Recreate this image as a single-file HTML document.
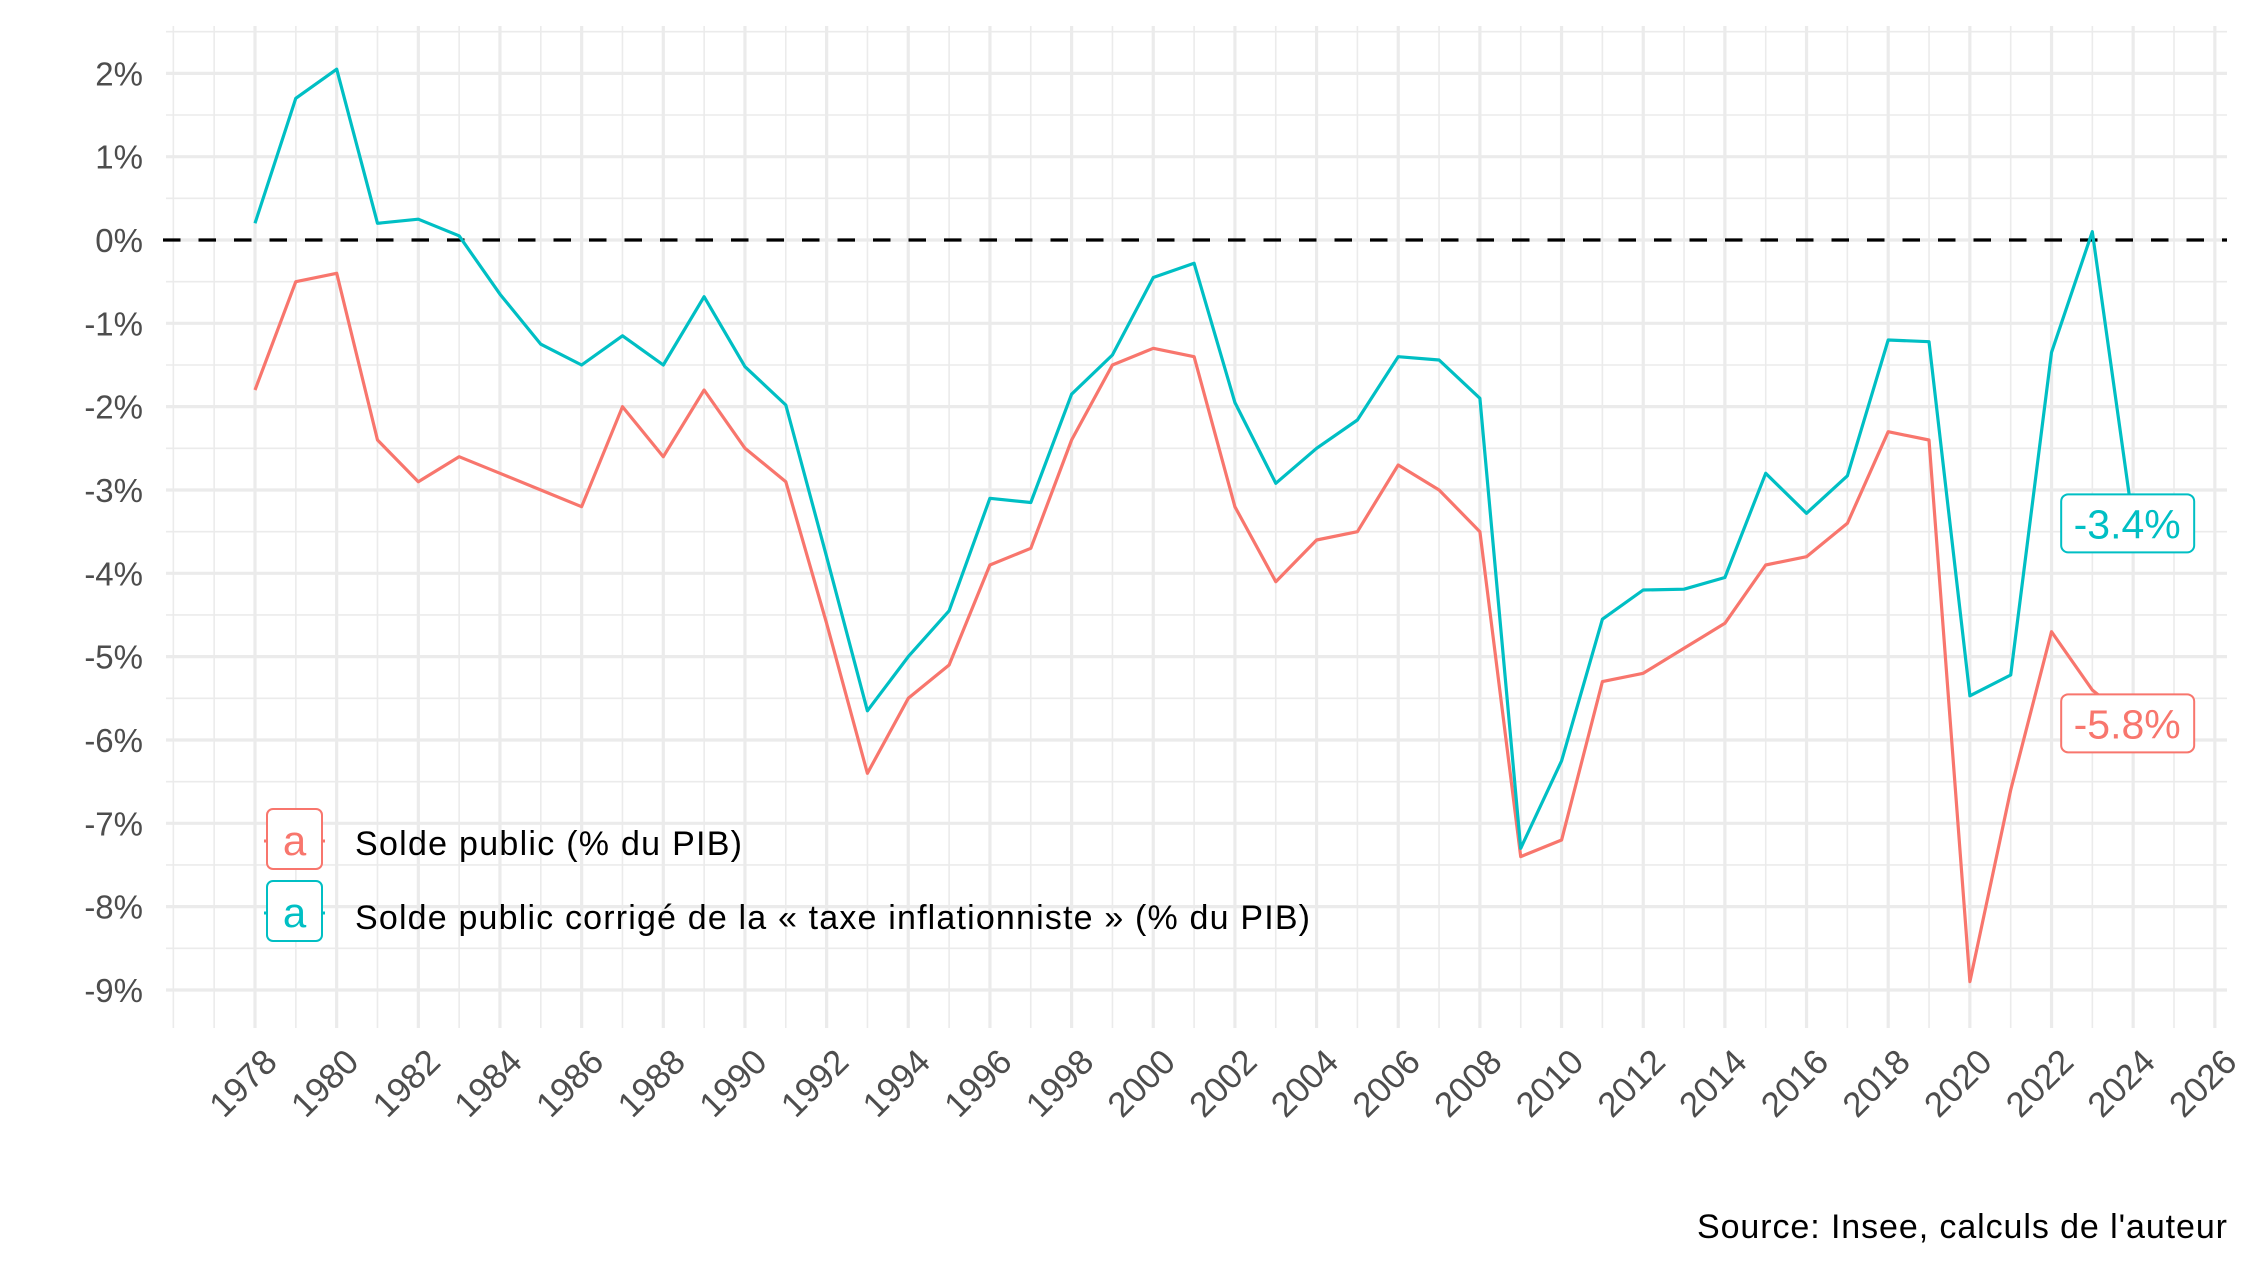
<!DOCTYPE html>
<html><head><meta charset="utf-8"><style>
html,body{margin:0;padding:0;background:#fff;}
svg{display:block;font-family:"Liberation Sans",sans-serif;}
</style></head><body>
<svg id="chart" width="2250" height="1265" viewBox="0 0 2250 1265">
<g id="grid"></g>
<g id="axes"></g>
<line x1="163" x2="2227" y1="240" y2="240" stroke="#000" stroke-width="3.2" stroke-dasharray="17.5,18"/>
<g id="series"></g>
<g id="labels"></g>
<g>
  <g>
    <line x1="264" x2="325" y1="841" y2="841" stroke="#F8766D" stroke-width="3"/>
    <rect x="267" y="809" width="55" height="60" rx="6" fill="#fff" stroke="#F8766D" stroke-width="2"/>
    <text x="294.5" y="855" text-anchor="middle" font-size="42" fill="#F8766D">a</text>
    <text x="355" y="855" font-size="34" textLength="387" fill="#000">Solde public (% du PIB)</text>
  </g>
  <g>
    <line x1="264" x2="325" y1="913" y2="913" stroke="#00BFC4" stroke-width="3"/>
    <rect x="267" y="881" width="55" height="60" rx="6" fill="#fff" stroke="#00BFC4" stroke-width="2"/>
    <text x="294.5" y="927" text-anchor="middle" font-size="42" fill="#00BFC4">a</text>
    <text x="355" y="929" font-size="34" textLength="955" fill="#000">Solde public corrigé de la « taxe inflationniste » (% du PIB)</text>
  </g>
</g>
<text x="1697" y="1238" font-size="34" textLength="530" fill="#000">Source: Insee, calculs de l'auteur</text>
</svg>
<script>
const years = [1978,1979,1980,1981,1982,1983,1984,1985,1986,1987,1988,1989,1990,1991,1992,1993,1994,1995,1996,1997,1998,1999,2000,2001,2002,2003,2004,2005,2006,2007,2008,2009,2010,2011,2012,2013,2014,2015,2016,2017,2018,2019,2020,2021,2022,2023,2024];
const soldePublic = [-1.8,-0.5,-0.4,-2.4,-2.9,-2.6,-2.8,-3.0,-3.2,-2.0,-2.6,-1.8,-2.5,-2.9,-4.6,-6.4,-5.5,-5.1,-3.9,-3.7,-2.4,-1.5,-1.3,-1.4,-3.2,-4.1,-3.6,-3.5,-2.7,-3.0,-3.5,-7.4,-7.2,-5.3,-5.2,-4.9,-4.6,-3.9,-3.8,-3.4,-2.3,-2.4,-8.9,-6.6,-4.7,-5.4,-5.8];
const soldeCorrige = [0.2,1.7,2.05,0.2,0.25,0.05,-0.65,-1.25,-1.5,-1.15,-1.5,-0.68,-1.52,-1.98,-3.8,-5.65,-5.0,-4.45,-3.1,-3.15,-1.85,-1.38,-0.45,-0.28,-1.95,-2.92,-2.5,-2.16,-1.4,-1.44,-1.9,-7.3,-6.25,-4.55,-4.2,-4.19,-4.05,-2.8,-3.28,-2.83,-1.2,-1.22,-5.47,-5.22,-1.35,0.1,-3.4];
const yTicks = [2,1,0,-1,-2,-3,-4,-5,-6,-7,-8,-9];
const xTicks = [1978,1980,1982,1984,1986,1988,1990,1992,1994,1996,1998,2000,2002,2004,2006,2008,2010,2012,2014,2016,2018,2020,2022,2024,2026];

const L=166,R=2227,T=26,B=1028;
const x = yr => 255 + (yr-1978)*40.83;
const y = v => 240 - v*83.33;
const NS="http://www.w3.org/2000/svg";
function mk(tag, attrs, parent){const e=document.createElementNS(NS,tag);for(const k in attrs)e.setAttribute(k,attrs[k]);parent.appendChild(e);return e;}
const grid=document.getElementById('grid'), axes=document.getElementById('axes'), series=document.getElementById('series'), labels=document.getElementById('labels');

for(let v=2.5; v>=-9; v-=1){const e=mk('line',{x1:L,x2:R,y1:y(v),y2:y(v),stroke:'#ebebeb','stroke-width':1.6},grid);

}
for(let yr=1976; yr<=2025; yr++){ if(xTicks.includes(yr)) continue; const e=mk('line',{x1:x(yr),x2:x(yr),y1:T,y2:B,stroke:'#ebebeb','stroke-width':1.6},grid);

}
yTicks.forEach(v=>{const e=mk('line',{x1:L,x2:R,y1:y(v),y2:y(v),stroke:'#ebebeb','stroke-width':3.2},grid);


const t=mk('text',{x:143,y:y(v)+12,'text-anchor':'end','font-size':33,fill:'#4d4d4d'},axes);t.textContent=v+'%';

});
xTicks.forEach(yr=>{const e=mk('line',{x1:x(yr),x2:x(yr),y1:T,y2:B,stroke:'#ebebeb','stroke-width':3.2},grid);


const px=x(yr)+24, py=1064;
const t=mk('text',{x:px,y:py,'text-anchor':'end','font-size':35,fill:'#4d4d4d',transform:`rotate(-45 ${px} ${py})`},axes);t.textContent=yr;

});

function line(vals,color,name){const d=vals.map((v,i)=>(i?'L':'M')+x(years[i]).toFixed(1)+','+y(v).toFixed(1)).join('');
const p=mk('path',{d,fill:'none',stroke:color,'stroke-width':3.2,'stroke-linejoin':'round'},series);

}
line(soldePublic,'#F8766D','line-solde-public');
line(soldeCorrige,'#00BFC4','line-solde-corrige');

function endLabel(vals,color,name){const v=vals[vals.length-1],cx=x(years[years.length-1])-6,cy=y(v);
const g=mk('g',{},labels);


mk('rect',{x:cx-66,y:cy-29,width:133,height:58,rx:7,fill:'#fff',stroke:color,'stroke-width':2},g);
const t=mk('text',{x:cx,y:cy+15,'text-anchor':'middle','font-size':41,fill:color},g);t.textContent=v.toFixed(1)+'%';}
endLabel(soldeCorrige,'#00BFC4','label-solde-corrige');
endLabel(soldePublic,'#F8766D','label-solde-public');
</script>
</body></html>
